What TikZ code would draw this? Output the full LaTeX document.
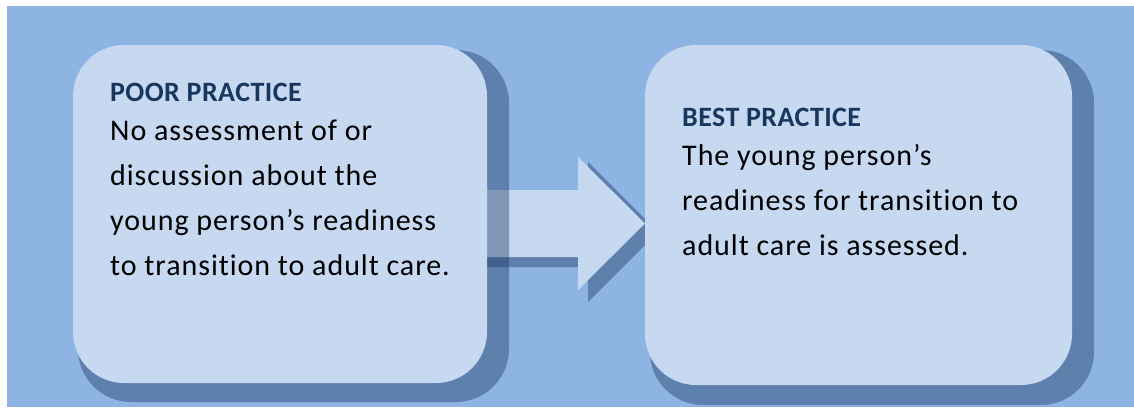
\documentclass[tikz,border=0pt]{standalone}
\usepackage{fontspec}
\setmainfont{Carlito}[Ligatures=NoCommon]
\newfontfamily\bodyfont{Carlito}[Ligatures=NoCommon,LetterSpace=3.2]
\newfontfamily\titlefont{Carlito}[Ligatures=NoCommon,LetterSpace=1.5]
\definecolor{bgblue}{HTML}{8EB4E3}
\definecolor{faceblue}{HTML}{C6D9F1}
\definecolor{shadowblue}{HTML}{18345E}
\definecolor{titleblue}{HTML}{17375E}
\begin{document}
\begin{tikzpicture}[x=1pt,y=-1pt,
  shadowfill/.style={fill=shadowblue,fill opacity=0.4,draw=none},
  facefill/.style={fill=faceblue,draw=none},
  ttl/.style={anchor=base west,inner sep=0pt,text=titleblue,font=\titlefont\fontsize{28}{32}\selectfont\bfseries},
  bodyline/.style={anchor=base west,inner sep=0pt,text=black,font=\bodyfont\fontsize{30}{36}\selectfont}]
\useasboundingbox (0,0) rectangle (1134,407);
\fill[white] (0,0) rectangle (1134,407);
\fill[bgblue] (7,6) rectangle (1134,407);
% arrow shadow and arrow
\fill[shadowfill] (400,195) -- (588,195) -- (588,162) -- (658,232) -- (588,302) -- (588,267) -- (400,267) -- cycle;
\fill[facefill] (400,190) -- (578,190) -- (578,157) -- (645,223.5) -- (578,290) -- (578,257) -- (400,257) -- cycle;
% box shadows
\fill[shadowfill,rounded corners=53pt] (78,50) rectangle (509,402);
\fill[shadowfill,rounded corners=53pt] (650,50) rectangle (1094,405);
% box faces
\fill[facefill,rounded corners=51pt] (73,45) rectangle (487,383);
\fill[facefill,rounded corners=51pt] (645,45) rectangle (1072,385);
% texts box 1
\node[ttl] (t1) at (110,101.7) {POOR PRACTICE};
\node[bodyline] (b1a) at (110,140) {No assessment of or};
\node[bodyline] (b1b) at (110,185) {discussion about the};
\node[bodyline] (b1c) at (110,230) {young person’s readiness};
\node[bodyline] (b1d) at (110,275) {to transition to adult care.};
% texts box 2
\node[ttl] (t2) at (682,126) {BEST PRACTICE};
\node[bodyline] (b2a) at (682,165.7) {The young person’s};
\node[bodyline] (b2b) at (682,210.7) {readiness for transition to};
\node[bodyline] (b2c) at (682,255.7) {adult care is assessed.};
\end{tikzpicture}
\end{document}
